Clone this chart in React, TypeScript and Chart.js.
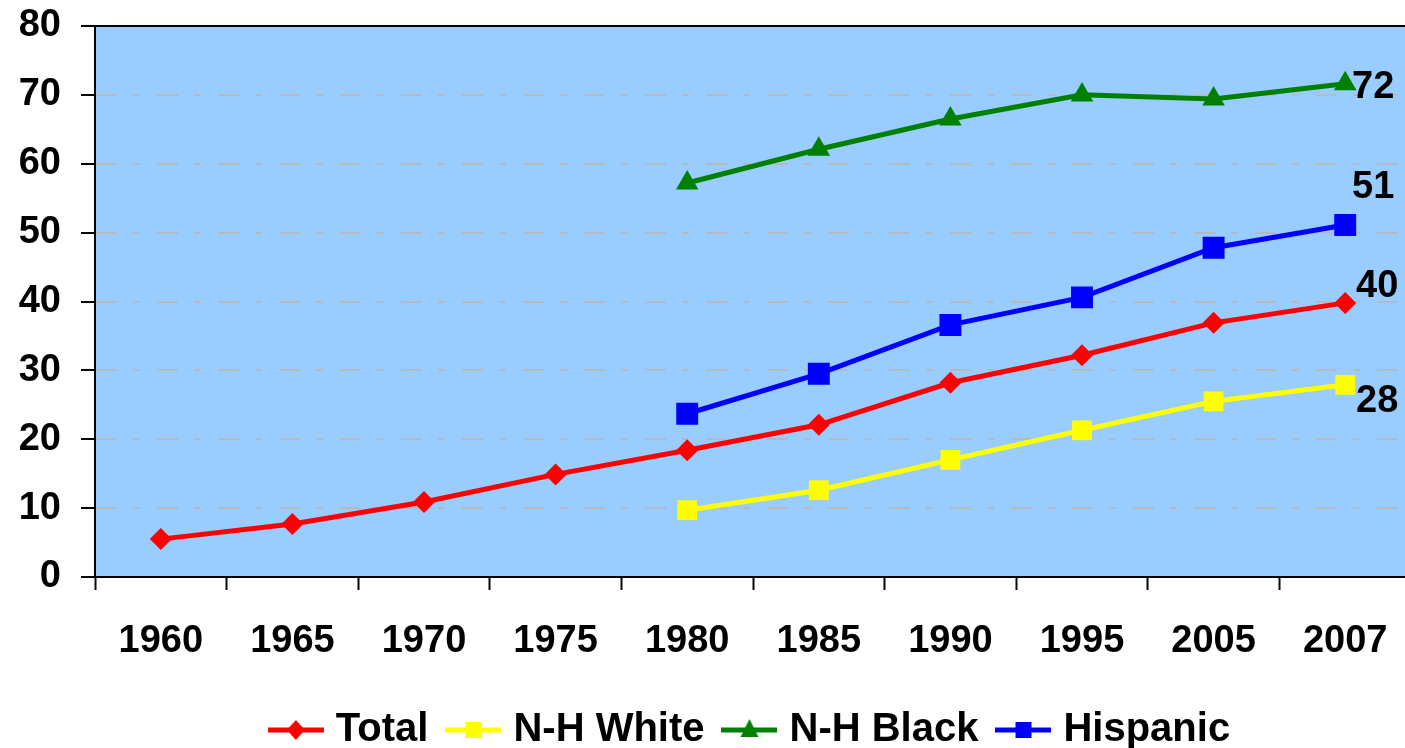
import React, { useEffect, useRef } from "react";
import { Chart, registerables } from "chart.js";

Chart.register(...registerables);

const years = ["1960", "1965", "1970", "1975", "1980", "1985", "1990", "1995", "2005", "2007"];
const totalValues = [5.5, 7.7, 10.9, 14.9, 18.4, 22.1, 28.2, 32.2, 36.9, 39.8];
const whiteValues = [null, null, null, null, 9.7, 12.6, 17.0, 21.3, 25.5, 27.9];
const blackValues = [null, null, null, null, 57.2, 62.1, 66.5, 70.0, 69.4, 71.6];
const hispanicValues = [null, null, null, null, 23.7, 29.5, 36.6, 40.6, 47.8, 51.1];
const seriesNames = ["Total", "N-H White", "N-H Black", "Hispanic"];
const endLabels = ["40", "28", "72", "51"];
const yTickValues = [0, 10, 20, 30, 40, 50, 60, 70, 80];

const FONT = "'Liberation Sans', Arial, sans-serif";
const COLORS = ["#FF0000", "#FFFF00", "#008000", "#0000FF"];
const STYLES = ["rectRot", "rect", "triangle", "rect"];
const RADII = [11, 14, 13, 15.5];
const LABEL_OFFSETS = [
  [32, -16],
  [32, 17],
  [28, 4],
  [28, -38],
];

function legendImage(color: string, style: string): HTMLCanvasElement {
  const c = document.createElement("canvas");
  c.width = 56;
  c.height = 30;
  const ctx = c.getContext("2d")!;
  ctx.strokeStyle = color;
  ctx.lineWidth = 5;
  ctx.beginPath();
  ctx.moveTo(0, 15);
  ctx.lineTo(56, 15);
  ctx.stroke();
  ctx.fillStyle = color;
  ctx.beginPath();
  if (style === "rectRot") {
    ctx.moveTo(28, 5);
    ctx.lineTo(37, 15);
    ctx.lineTo(28, 25);
    ctx.lineTo(19, 15);
  } else if (style === "triangle") {
    ctx.moveTo(28, 4);
    ctx.lineTo(37, 22);
    ctx.lineTo(19, 22);
  } else {
    ctx.rect(20, 7, 16, 16);
  }
  ctx.closePath();
  ctx.fill();
  return c;
}

const bgPlugin = {
  id: "bgPlugin",
  beforeDraw(chart: any) {
    const { ctx, chartArea } = chart;
    ctx.save();
    ctx.fillStyle = "#99CCFF";
    ctx.fillRect(chartArea.left, chartArea.top, chartArea.right - chartArea.left, chartArea.bottom - chartArea.top);
    ctx.restore();
  },
  afterDraw(chart: any) {
    const { ctx, chartArea } = chart;
    ctx.save();
    ctx.strokeStyle = "#000";
    ctx.lineWidth = 2;
    ctx.beginPath();
    ctx.moveTo(chartArea.left, chartArea.top);
    ctx.lineTo(chartArea.right, chartArea.top);
    ctx.stroke();
    ctx.restore();
  },
};

const endLabelPlugin = {
  id: "endLabelPlugin",
  afterDatasetsDraw(chart: any) {
    const { ctx } = chart;
    ctx.save();
    ctx.font = `bold 38px ${FONT}`;
    ctx.fillStyle = "#000";
    ctx.textAlign = "center";
    ctx.textBaseline = "middle";
    chart.data.datasets.forEach((_ds: any, i: number) => {
      const meta = chart.getDatasetMeta(i);
      const pt = meta.data[meta.data.length - 1];
      if (!pt) return;
      ctx.fillText(endLabels[i], pt.x + LABEL_OFFSETS[i][0], pt.y + LABEL_OFFSETS[i][1]);
    });
    ctx.restore();
  },
};

export default function App() {
  const canvasRef = useRef<HTMLCanvasElement | null>(null);

  useEffect(() => {
    if (!canvasRef.current) return;
    const seriesValues = [totalValues, whiteValues, blackValues, hispanicValues];
    const images = COLORS.map((c, i) => legendImage(c, STYLES[i]));
    const chart = new Chart(canvasRef.current, {
      type: "line",
      data: {
        labels: years,
        datasets: seriesValues.map((vals, i) => ({
          label: seriesNames[i],
          data: vals,
          borderColor: COLORS[i],
          backgroundColor: COLORS[i],
          borderWidth: 5,
          pointStyle: STYLES[i] as any,
          pointRadius: RADII[i],
          pointBorderWidth: 0,
          pointBackgroundColor: COLORS[i],
          pointBorderColor: COLORS[i],
          tension: 0,
          fill: false,
        })),
      },
      options: {
        animation: false,
        responsive: true,
        maintainAspectRatio: false,
        layout: { autoPadding: false, padding: { top: 26, right: 5, left: 0, bottom: 0 } },
        plugins: {
          tooltip: { enabled: false },
          legend: {
            position: "bottom",
            fullSize: false,
            labels: {
              usePointStyle: true,
              pointStyleWidth: 40,
              padding: 25,
              color: "#000",
              font: { family: FONT, size: 40, weight: "bold" },
              generateLabels: () =>
                seriesNames.map((name, i) => ({
                  text: name,
                  pointStyle: images[i] as any,
                  fillStyle: COLORS[i],
                  strokeStyle: COLORS[i],
                  lineWidth: 0,
                  hidden: false,
                  datasetIndex: i,
                })),
            },
          },
        },
        scales: {
          x: {
            type: "category",
            offset: true,
            afterFit: (scale: any) => {
              scale.height = 108;
              scale.paddingLeft = 0;
              scale.paddingRight = 0;
            },
            grid: {
              offset: true,
              drawOnChartArea: false,
              drawTicks: true,
              tickLength: 13,
              tickColor: "#000",
              tickWidth: 2,
              tickBorderDash: [],
            },
            border: { display: true, color: "#000", width: 2 },
            ticks: {
              color: "#000",
              font: { family: FONT, size: 38, weight: "bold", lineHeight: 2.7 },
              padding: 0,
              maxRotation: 0,
              autoSkip: false,
            },
          },
          y: {
            min: 0,
            max: 80,
            afterFit: (scale: any) => {
              scale.width = 95;
              scale.paddingTop = 0;
              scale.paddingBottom = 0;
            },
            afterBuildTicks: (scale: any) => {
              scale.ticks = yTickValues.map((v) => ({ value: v }));
            },
            grid: {
              color: (ctx: any) =>
                ctx.tick && (ctx.tick.value === 0 || ctx.tick.value === 80) ? "rgba(0,0,0,0)" : "#B4BAC0",
              lineWidth: 2,
              tickLength: 14,
              tickColor: "#000",
              tickWidth: 2,
              tickBorderDash: [],
            },
            border: { display: true, color: "#000", width: 2, dash: [21, 16, 7, 17] },
            ticks: {
              color: "#000",
              font: { family: FONT, size: 38, weight: "bold", lineHeight: 1 },
              padding: 20,
            },
          },
        },
      },
      plugins: [bgPlugin, endLabelPlugin],
    });
    return () => chart.destroy();
  }, []);

  return (
    <div style={{ position: "absolute", left: 0, top: 0, width: 1405, height: 748, overflow: "hidden", background: "#fff" }}>
      <div style={{ position: "relative", width: 1416, height: 760 }}>
        <canvas ref={canvasRef} style={{ display: "block" }} />
      </div>
    </div>
  );
}
